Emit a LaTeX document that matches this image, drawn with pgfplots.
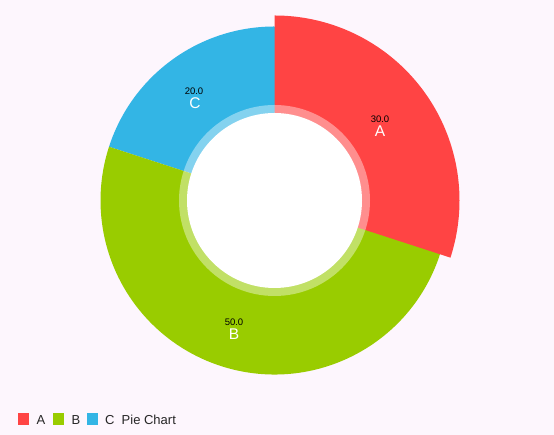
\documentclass[border=0pt]{standalone}
\usepackage{pgfplots}
\pgfplotsset{compat=1.18}
\usepackage{fontspec}
\setmainfont{Liberation Sans}
\definecolor{bg}{HTML}{FDF6FD}
\definecolor{pA}{HTML}{FF4444}
\definecolor{pB}{HTML}{99CC00}
\definecolor{pC}{HTML}{33B5E5}
% data values
\def\valA{30}\def\valB{50}\def\valC{20}
\pgfmathsetmacro\tot{\valA+\valB+\valC}
\pgfmathsetmacro\aA{90}
\pgfmathsetmacro\aB{\aA-360*(\valA/\tot)}
\pgfmathsetmacro\aC{\aB-360*(\valB/\tot)}
\pgfmathsetmacro\aD{\aC-360*(\valC/\tot)}
\pgfmathsetmacro\aBs{\aB+0.8}
\pgfmathsetmacro\aCe{\aC-0.8}
\pgfmathsetmacro\aDe{\aD-0.8}
\def\cx{274.5}\def\cy{234.5}
\begin{document}
\begin{tikzpicture}
\begin{axis}[width=554pt,height=435pt,scale only axis,xmin=0,xmax=554,ymin=0,ymax=435,
  hide axis,clip=false,enlargelimits=false]
\fill[bg] (axis cs:0,0) rectangle (axis cs:554,435);
% slices (C, then B over it, then highlighted A on top)
\fill[pC] (axis cs:\cx,\cy) -- ++(\aC:174pt) arc[start angle=\aC,end angle=\aDe,radius=174pt] -- cycle;
\fill[pB] (axis cs:\cx,\cy) -- ++(\aBs:174pt) arc[start angle=\aBs,end angle=\aC,radius=174pt] -- cycle;
\fill[pA] (axis cs:\cx,\cy) -- ++(\aA:185pt) arc[start angle=\aA,end angle=\aB,radius=185pt] -- cycle;
% transparent circle and hole
\fill[white,opacity=0.4] (axis cs:\cx,\cy) circle[radius=95.5pt];
\fill[white] (axis cs:\cx,\cy) circle[radius=87.5pt];
% labels
\node[font=\fontsize{9.5}{9.5}\selectfont,text=black,inner sep=0] at (axis cs:380,316) {30.0};
\node[font=\fontsize{15.5}{15.5}\selectfont,text=white,inner sep=0] at (axis cs:380,304) {A};
\node[font=\fontsize{9.5}{9.5}\selectfont,text=black,inner sep=0] at (axis cs:194,344) {20.0};
\node[font=\fontsize{15.5}{15.5}\selectfont,text=white,inner sep=0] at (axis cs:195,332) {C};
\node[font=\fontsize{9.5}{9.5}\selectfont,text=black,inner sep=0] at (axis cs:234,112.5) {50.0};
\node[font=\fontsize{15.5}{15.5}\selectfont,text=white,inner sep=0] at (axis cs:234,101) {B};
% legend
\fill[pA] (axis cs:18,10) rectangle (axis cs:29,21.5);
\node[anchor=base west,inner sep=0,font=\fontsize{13}{13}\selectfont,text=black!85] at (axis cs:36.5,10) {A};
\fill[pB] (axis cs:53,10) rectangle (axis cs:64,21.5);
\node[anchor=base west,inner sep=0,font=\fontsize{13}{13}\selectfont,text=black!85] at (axis cs:71.5,10) {B};
\fill[pC] (axis cs:87,10) rectangle (axis cs:98,21.5);
\node[anchor=base west,inner sep=0,font=\fontsize{13}{13}\selectfont,text=black!85] at (axis cs:105,10) {C};
\node[anchor=base west,inner sep=0,font=\fontsize{13}{13}\selectfont,text=black!85] at (axis cs:121.5,10) {Pie Chart};
\end{axis}
\end{tikzpicture}
\end{document}
